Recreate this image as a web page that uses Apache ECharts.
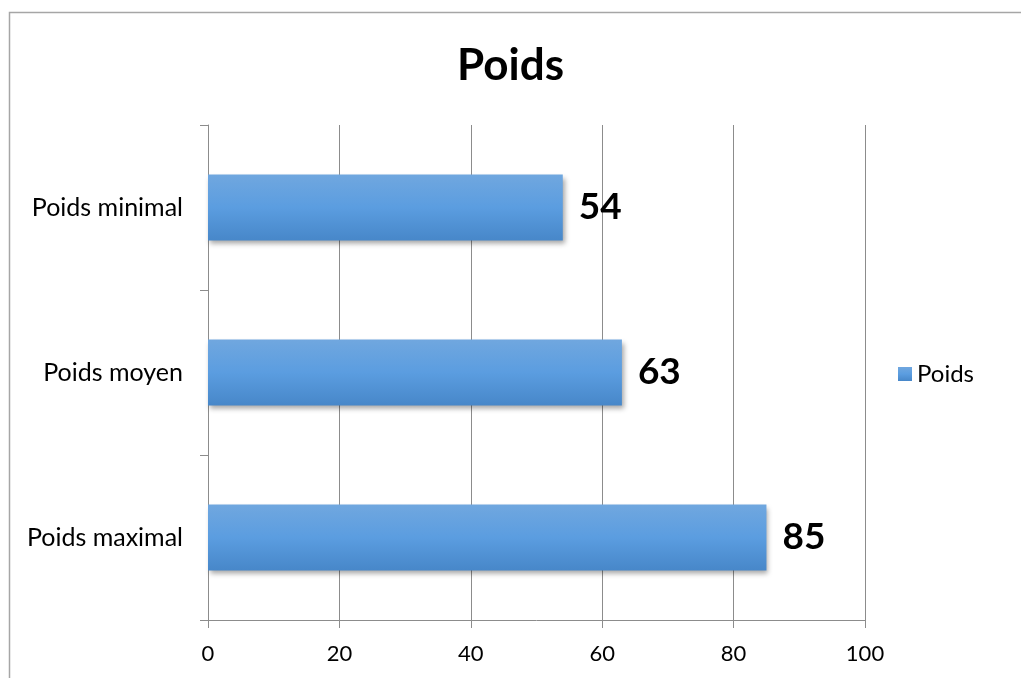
<!DOCTYPE html>
<html>
<head>
<meta charset="utf-8">
<script src="https://cdn.jsdelivr.net/npm/echarts@6/dist/echarts.min.js"></script>
<style>
  html, body { margin: 0; padding: 0; background: #fff; }
  #chart { width: 1021px; height: 678px; }
</style>
</head>
<body>
<div id="chart"></div>
<script>
// Weight summary
const categories = ['Poids minimal', 'Poids moyen', 'Poids maximal'];
const values = [54, 63, 85];
const seriesName = 'Poids';
const xTicks = { min: 0, max: 100, interval: 20 };

const font = 'Lato, "Open Sans", sans-serif';
const chart = echarts.init(document.getElementById('chart'), null, { renderer: 'canvas' });

chart.setOption({
  backgroundColor: '#ffffff',
  animation: false,
  title: {
    text: 'Poids',
    left: 'center',
    top: 39,
    textStyle: { fontFamily: font, fontSize: 44, fontWeight: 'bold', color: '#000' }
  },
  legend: {
    data: [seriesName],
    left: 893,
    top: 357,
    icon: 'rect',
    itemWidth: 14,
    itemHeight: 14,
    itemGap: 6,
    textStyle: { fontFamily: font, fontSize: 24, color: '#000' }
  },
  grid: { left: 208, right: 156, top: 125, bottom: 58, containLabel: false },
  xAxis: {
    type: 'value',
    min: xTicks.min,
    max: xTicks.max,
    interval: xTicks.interval,
    axisLine: { show: true, lineStyle: { color: '#8c8c8c', width: 1 } },
    axisTick: { show: true, length: 8, lineStyle: { color: '#8c8c8c' } },
    splitLine: { show: true, lineStyle: { color: '#8c8c8c', width: 1 } },
    axisLabel: { fontFamily: font, fontSize: 22, color: '#000', margin: 23 }
  },
  yAxis: {
    type: 'category',
    data: categories,
    inverse: true,
    axisLine: { show: true, lineStyle: { color: '#8c8c8c', width: 1 } },
    axisTick: { show: true, length: 8, lineStyle: { color: '#8c8c8c' } },
    axisLabel: { fontFamily: font, fontSize: 25, color: '#000', margin: 25 }
  },
  series: [{
    name: seriesName,
    type: 'bar',
    data: values,
    barWidth: 66,
    itemStyle: {
      color: new echarts.graphic.LinearGradient(0, 0, 0, 1, [
        { offset: 0, color: '#70a7df' },
        { offset: 0.5, color: '#5b9de0' },
        { offset: 1, color: '#4787c9' }
      ]),
      shadowColor: 'rgba(0,0,0,0.35)',
      shadowBlur: 5,
      shadowOffsetX: 2,
      shadowOffsetY: 3
    },
    label: {
      show: true,
      position: 'right',
      distance: 16,
      fontFamily: font,
      fontSize: 37,
      fontWeight: 'bold',
      color: '#000'
    }
  }],
  graphic: [{
    type: 'rect',
    shape: { x: 9.5, y: 12.5, width: 1040, height: 700 },
    style: { fill: 'none', stroke: '#a6a6a6', lineWidth: 1.5 },
    silent: true,
    z: -1
  }]
});
</script>
</body>
</html>
